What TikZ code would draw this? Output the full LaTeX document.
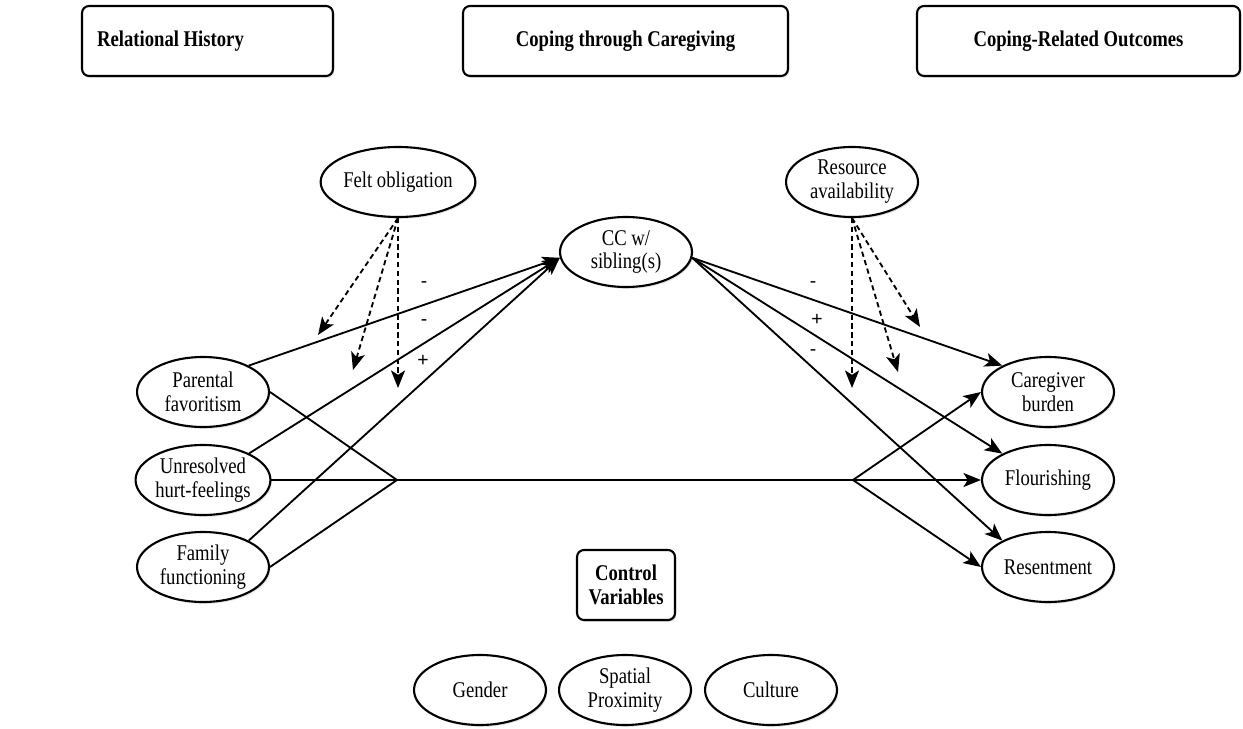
\documentclass[tikz,border=0pt]{standalone}
\usepackage{fontspec}
\setmainfont{Liberation Serif}[FakeStretch=0.83]
\newfontfamily\signfont{Liberation Sans}
\usetikzlibrary{arrows.meta,shapes.geometric,shadows}
\begin{document}
\begin{tikzpicture}[x=0.02cm,y=-0.02cm,
  every node/.style={font=\fontsize{12.8}{13.6}\selectfont},
  shade/.style={drop shadow={shadow xshift=0.8pt,shadow yshift=-1pt,opacity=0.25}},
  topbox/.style={draw,rounded corners=4pt,line width=1.2pt,minimum height=1.4cm,fill=white,shade,
    font=\fontsize{12.8}{13.6}\selectfont\bfseries},
  oval/.style={draw,ellipse,line width=1.2pt,minimum width=2.64cm,minimum height=1.4cm,inner sep=0pt,
    align=center,fill=white,shade},
  link/.style={line width=1.05pt,-{Stealth[length=10pt,width=8pt,inset=2.5pt]}},
  plainline/.style={line width=1.05pt},
  mod/.style={line width=1.05pt,dash pattern=on 3pt off 2pt,-{Stealth[length=10pt,width=8pt,inset=2.5pt]}},
  sign/.style={font=\signfont\fontsize{11}{12}\selectfont,inner sep=0pt}
]
\useasboundingbox (0,0) rectangle (1243,729);

% header boxes
\node[topbox,minimum width=5.02cm] (RH) at (207.5,41) {Relational History\hspace*{1.48cm}};
\node[topbox,minimum width=6.5cm] (CG) at (625.5,41) {Coping through Caregiving};
\node[topbox,minimum width=6.46cm] (CO) at (1078.5,41) {Coping-Related Outcomes};

% ellipses
\node[oval] (FO) at (398,182) {Felt obligation};
\node[oval] (CC) at (626,252) {CC w/\\sibling(s)};
\node[oval] (RA) at (852,182) {Resource\\availability};
\node[oval] (PF) at (203,392) {Parental\\favoritism};
\node[oval] (UH) at (203,480) {Unresolved\\hurt-feelings};
\node[oval] (FF) at (203,567) {Family\\functioning};
\node[oval] (CB) at (1048,392) {Caregiver\\burden};
\node[oval] (FL) at (1048,480) {Flourishing};
\node[oval] (RS) at (1048,567) {Resentment};

\node[topbox,minimum width=1.96cm,minimum height=1.4cm,align=center,inner xsep=2pt] (CV) at (626,585) {Control\\Variables};
\node[oval] (GE) at (480,690) {Gender};
\node[oval] (SP) at (625,690) {Spatial\\Proximity};
\node[oval] (CU) at (771,690) {Culture};

% junctions and free ends
\coordinate (jL) at (397,480);
\coordinate (jR) at (853,480);
\coordinate (d1) at (318,335);
\coordinate (d2) at (353,370);
\coordinate (d3) at (398,388);
\coordinate (e1) at (920,327);
\coordinate (e2) at (898,372);
\coordinate (e3) at (852,388);

% predictors to CC
\draw[link] (PF.30) -- (CC.185);
\draw[link] (UH.30) -- (CC.185);
\draw[link] (FF.30) -- (CC.185);

% CC to outcomes
\draw[link] (CC.-5) -- (CB.150);
\draw[link] (CC.-5) -- (FL.150);
\draw[link] (CC.-5) -- (RS.150);

% direct paths via junctions
\draw[plainline] (PF.east) -- (jL) -- (FF.east);
\draw[link] (UH.east) -- (FL.west);
\draw[link] (jR) -- (CB.west);
\draw[link] (jR) -- (RS.west);

% moderators
\draw[mod] (FO.south) -- (d1);
\draw[mod] (FO.south) -- (d2);
\draw[mod] (FO.south) -- (d3);
\draw[mod] (RA.south) -- (e1);
\draw[mod] (RA.south) -- (e2);
\draw[mod] (RA.south) -- (e3);

% signs
\node[sign] (s1) at (424,285) {-};
\node[sign] (s2) at (424,323) {-};
\node[sign] (s3) at (423,361) {+};
\node[sign] (s4) at (813,285) {-};
\node[sign] (s5) at (817,320) {+};
\node[sign] (s6) at (813,353) {-};
\end{tikzpicture}
\end{document}
